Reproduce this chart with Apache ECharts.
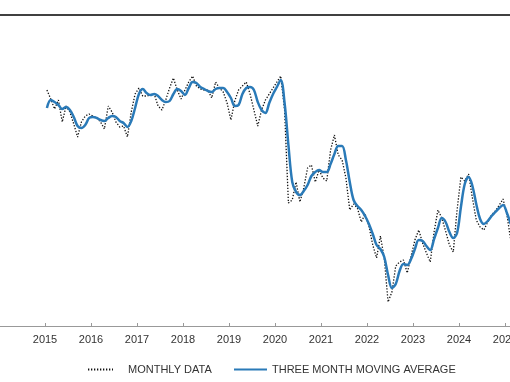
<!DOCTYPE html>
<html>
<head>
<meta charset="utf-8">
<script src="https://cdn.jsdelivr.net/npm/echarts@6/dist/echarts.min.js"></script>
<style>
html,body{margin:0;padding:0;background:#fff;}
#chart{width:510px;height:382px;}
</style>
</head>
<body>
<div id="chart"></div>
<script>
// Monthly series starting January 2015 (index units)
const startYear = 2015;
const monthlyData = [
  236,227,217,226,204,220,214,202,189,204,210,212,
  210,208,204,197,220,214,204,199,200,189,214,232,
  238,230,230,231,232,220,216,226,238,248,236,227,
  236,244,250,240,237,236,236,228,244,238,234,223,
  206,225,236,240,244,232,216,200,216,226,232,238,
  244,250,216,123,126,144,124,138,158,161,144,156,
  148,145,176,191,171,166,148,116,122,118,104,112,
  100,81,68,90,68,24,34,60,64,66,53,70,
  86,96,83,73,64,94,116,108,95,81,74,116,
  149,145,152,128,106,99,96,104,111,115,121,127,
  111,86
];
const movingAverage = [
  218,226,224,221,217,219,216,209,200,198,201,208,
  209,208,206,205,208,210,209,205,203,199,205,218,
  232,237,233,231,232,230,226,224,225,232,237,235,
  231,238,244,243,239,237,235,234,237,238,238,234,
  228,220,221,232,238,239,236,224,216,213,223,232,
  239,246,223,181,144,134,131,135,141,150,154,156,
  154,154,162,172,180,180,166,144,126,120,116,110,
  102,92,81,77,69,51,38,42,55,62,61,67,
  77,86,85,80,76,87,98,108,104,94,88,93,
  119,142,149,140,122,107,102,105,110,114,118,121,
  113,102
];
const tickYears = [2015,2016,2017,2018,2019,2020,2021,2022,2023,2024,2025];
const seriesNames = ['MONTHLY DATA', 'THREE MONTH MOVING AVERAGE'];

const toPairs = arr => arr.map((v, i) => [startYear + (i + 0.5) / 12, v]);

const chart = echarts.init(document.getElementById('chart'), null, {renderer: 'canvas'});
const font = 'Liberation Sans, Arial, sans-serif';
const hiddenSymbol = {opacity: 0, color: 'transparent', borderWidth: 0};
chart.setOption({
  animation: false,
  backgroundColor: '#fff',
  grid: {left: -1, right: -41, top: 15, bottom: 56, outerBoundsMode: 'none', containLabel: false},
  legend: [
    {
      data: [seriesNames[0]], left: 82, top: 359, itemWidth: 25, itemHeight: 10,
      itemStyle: hiddenSymbol,
      textStyle: {fontFamily: font, fontSize: 11, color: '#333', padding: [0, 0, 0, 10]}
    },
    {
      data: [seriesNames[1]], left: 228, top: 359, itemWidth: 33, itemHeight: 10,
      itemStyle: hiddenSymbol,
      textStyle: {fontFamily: font, fontSize: 11, color: '#333'}
    }
  ],
  xAxis: [
    {
      type: 'value', min: 2014, max: 2026, interval: 1, position: 'bottom',
      axisLine: {show: true, lineStyle: {color: '#999', width: 1}},
      axisTick: {show: true, inside: true, length: 3, lineStyle: {color: '#999'}},
      splitLine: {show: false},
      axisLabel: {
        show: true, margin: 8, fontFamily: font, fontSize: 11, color: '#333',
        formatter: v => (tickYears.indexOf(v) >= 0 ? String(v) : '')
      }
    },
    {
      type: 'value', min: 2014, max: 2026, position: 'top',
      axisLine: {show: true, lineStyle: {color: '#404040', width: 2}},
      axisTick: {show: false}, axisLabel: {show: false}, splitLine: {show: false}
    }
  ],
  yAxis: {
    type: 'value', min: 0, max: 311, show: false, splitLine: {show: false}
  },
  series: [
    {
      name: seriesNames[0], type: 'line', data: toPairs(monthlyData),
      symbol: 'none', smooth: false,
      lineStyle: {color: '#111', width: 1.3, type: [1.3, 1.7]},
      itemStyle: {color: '#111'},
      z: 2
    },
    {
      name: seriesNames[1], type: 'line', data: toPairs(movingAverage),
      symbol: 'none', smooth: 0.35,
      lineStyle: {color: '#2a7ab8', width: 2.5},
      itemStyle: {color: '#2a7ab8'},
      z: 3
    }
  ]
});
</script>
</body>
</html>
